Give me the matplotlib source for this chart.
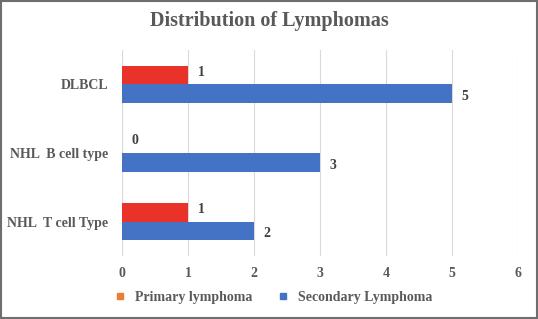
import matplotlib
matplotlib.use("Agg")
import numpy as np
import matplotlib.pyplot as plt
from matplotlib.patches import Rectangle
from matplotlib.lines import Line2D

categories = ["NHL  T cell Type", "NHL  B cell type", "DLBCL"]
primary = [1, 0, 1]
secondary = [2, 3, 5]
xticks = [0, 1, 2, 3, 4, 5, 6]

TXT = "#595959"
plt.rcParams["font.family"] = ["Liberation Serif", "DejaVu Serif"]
plt.rcParams["font.weight"] = "bold"

fig = plt.figure(figsize=(5.38, 3.19), dpi=100)
ax = fig.add_axes([122 / 538, 1 - 256 / 319, 396 / 538, 206 / 319])

y = np.arange(len(categories))
h = 0.27
ax.barh(y + h / 2, primary, height=h, color="#E8322A", zorder=3)
ax.barh(y - h / 2, secondary, height=h, color="#4472C4", zorder=3)

for yi, p, s in zip(y, primary, secondary):
    ax.annotate(str(p), (p, yi + h / 2), xytext=(7, 2), textcoords="offset points",
                va="center", ha="left", fontsize=10, fontweight="bold", color="#404040")
    ax.annotate(str(s), (s, yi - h / 2), xytext=(7, -2), textcoords="offset points",
                va="center", ha="left", fontsize=10, fontweight="bold", color="#404040")

ax.set_xlim(0, 6)
ax.set_ylim(-0.5, 2.5)
ax.set_xticks(xticks)
ax.set_yticks(y)
ax.set_yticklabels(categories)
ax.tick_params(axis="both", length=0, colors=TXT, labelsize=10, pad=8)
ax.tick_params(axis="y", pad=10)
for lbl in ax.get_xticklabels() + ax.get_yticklabels():
    lbl.set_fontweight("bold")
ax.grid(axis="x", color="#D9D9D9", linewidth=0.8, zorder=0)
for sp in ax.spines.values():
    sp.set_visible(False)

fig.text(0.5, 1 - 21 / 319, "Distribution of Lymphomas", ha="center", va="center",
         fontsize=14.5, fontweight="bold", color=TXT)

handles = [
    Line2D([], [], marker="s", linestyle="none", color="#ED7D31", markersize=5),
    Line2D([], [], marker="s", linestyle="none", color="#4472C4", markersize=5),
]
fig.legend(handles, ["Primary lymphoma", "Secondary Lymphoma"], loc="center",
           bbox_to_anchor=(0.5, 1 - 297 / 319), ncol=2, frameon=False,
           fontsize=10, labelcolor=TXT, handletextpad=0.1, columnspacing=1.2)

fig.patches.append(Rectangle((0.002, 0.003), 0.996, 0.994, transform=fig.transFigure,
                             fill=False, edgecolor="#6E6E6E", linewidth=1.5))

fig.savefig("out.png", dpi=100)
